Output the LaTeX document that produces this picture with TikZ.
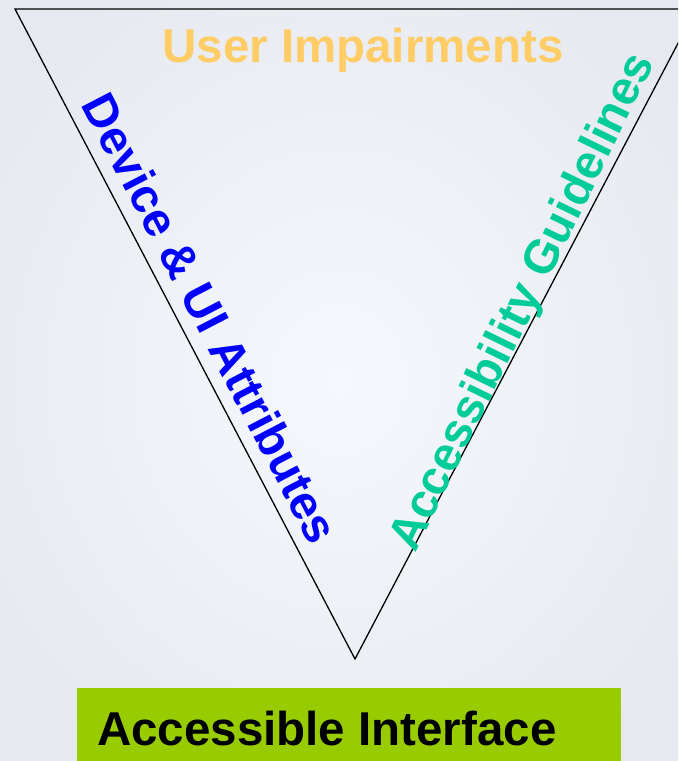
\documentclass[tikz,border=0pt]{standalone}
\usepackage{fontspec}
\setmainfont{Liberation Sans}
\definecolor{bgedge}{HTML}{E6EAF0}
\definecolor{bgmid}{HTML}{F5F8FC}
\definecolor{userorange}{HTML}{FFCC66}
\definecolor{devblue}{HTML}{0000FF}
\definecolor{guidegreen}{HTML}{00CC99}
\definecolor{boxgreen}{HTML}{99CC00}
\tikzset{
  bigtext/.style={inner sep=0pt, font=\bfseries\fontsize{47.5}{50}\selectfont},
  vline/.style={draw=black, line width=1.3pt, line join=miter},
}
\begin{document}
\begin{tikzpicture}[x=1pt,y=-1pt]
\useasboundingbox (0,0) rectangle (678,761);
\clip (0,0) rectangle (678,761);
% background
\fill[bgedge] (0,0) rectangle (678,761);
\shade[inner color=bgmid, outer color=bgedge] (339,380) ellipse (420 and 470);
% triangle
\coordinate (tl) at (15,9);
\coordinate (tr) at (696,9);
\coordinate (bt) at (355,659);
\draw[vline] (tl) -- (tr) -- (bt) -- cycle;
% labels
\node[bigtext, text=userorange, anchor=base] (user) at (363,62) {User Impairments};
\node[bigtext, text=devblue, anchor=base, rotate=-62.5] (dev) at (196,326) {Device \& UI Attributes};
\node[bigtext, text=guidegreen, anchor=base, rotate=64] (guide) at (535,308) {Accessibility Guidelines};
% bottom box
\path[fill=boxgreen] (77,688) rectangle (621,770);
\node[bigtext, text=black, anchor=base west] (iface) at (97,745) {Accessible Interface};
\end{tikzpicture}
\end{document}
